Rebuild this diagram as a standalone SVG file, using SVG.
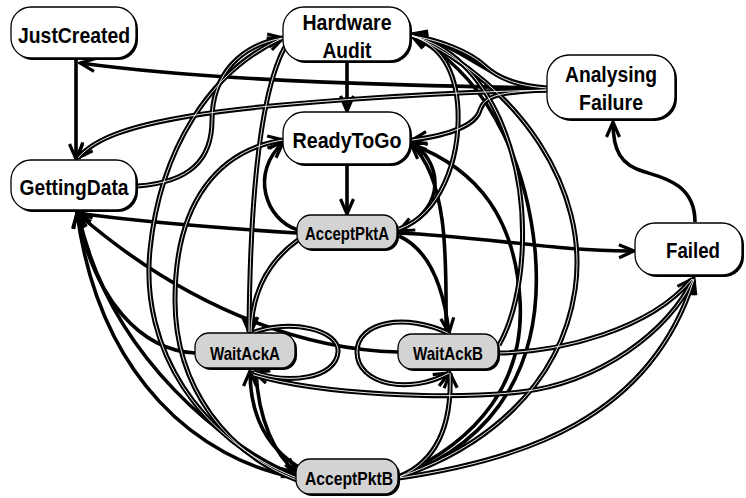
<svg xmlns="http://www.w3.org/2000/svg" xmlns:xlink="http://www.w3.org/1999/xlink" width="746" height="498" viewBox="0 0 746 498">
  <style>
    .sh { fill: #000; }
    .bx { fill: #fff; stroke: #000; stroke-width: 1.3; }
    .gr { fill: #d3d3d3; stroke: #000; stroke-width: 1.3; }
    .t { font-family: "Liberation Sans", Arial, sans-serif; font-weight: bold; font-size: 22px; text-anchor: middle; fill: #000; }
    .ts { font-size: 18.5px; }
    .s { fill: none; stroke: #000; stroke-width: 3.6; marker-end: url(#ah); }
    .d { fill: none; stroke: #000; stroke-width: 5; marker-end: url(#ah); }
    .w { fill: none; stroke: #fff; stroke-width: 0.9; }
  </style>
  <defs>
    <marker id="ah" viewBox="-18 -10 20 20" refX="0" refY="0" markerWidth="20" markerHeight="20" orient="auto" markerUnits="userSpaceOnUse">
      <path d="M-15,-6.5 L0,0 L-15,6.5" fill="none" stroke="#000" stroke-width="3.2"/>
    </marker>
    <!-- double-stroke connector paths, drawn twice (black body + white core) -->
    <path id="d1" d="M547,90 C420,93 260,104 190,116 C130,126 95,138 78,158"/>
    <path id="d2" d="M547,90 C500,92 485,95 480,110 C476,125 450,135 412,140"/>
    <path id="d3" d="M547,88 C520,86 500,80 485,66 C470,52 440,40 412,36"/>
    <path id="d4" d="M138,186 C190,182 212,160 212,120 C212,75 240,45 283,38"/>
    <path id="d5" d="M297,478 C200,440 140,350 150,250 C160,150 210,70 283,38"/>
    <path id="d6" d="M297,480 C230,455 175,390 175,300 C175,200 220,150 283,140"/>
    <path id="d7" d="M286,45 C260,90 250,200 249,332"/>
    <path id="d8" d="M298,240 C270,260 252,290 251,332"/>
    <path id="d9" d="M252,333 C290,318 340,330 338,352 C336,378 290,385 254,372"/>
    <path id="d10" d="M450,334 C405,312 357,322 357,352 C357,385 410,395 449,373"/>
    <path id="d11" d="M399,477 C440,460 452,420 450,373"/>
    <path id="d12" d="M499,353 C560,352 650,330 692,279"/>
    <path id="d13" d="M254,375 C320,395 450,400 520,392 C600,383 670,330 693,279"/>
    <path id="d14" d="M399,478 C520,460 650,420 694,279"/>
    <path id="d15" d="M399,229 C440,215 460,160 458,110 C456,70 440,45 412,36"/>
    <path id="d16" d="M499,345 C525,300 535,200 500,120 C480,75 450,45 412,36"/>
    <path id="d17" d="M399,477 C480,450 560,390 575,290 C590,190 520,85 412,35"/>
  </defs>

  <g id="connectors">
    <!-- single thick connectors -->
    <path class="s" d="M76,58 L76,159"/>
    <path class="s" d="M547,88 C420,86 220,82 80,63"/>
    <path class="s" d="M347,62 L347,111"/>
    <path class="s" d="M347,165 L347,214"/>
    <path class="s" d="M547,88 C495,88 470,48 412,34"/>
    <path class="s" d="M695,222 C695,185 665,178 645,172 C620,165 613,150 613,122"/>
    <path class="s" d="M398,233 C480,236 560,252 634,251"/>
    <path class="s" d="M297,233 C220,228 140,222 77,213"/>
    <path class="s" d="M195,353 C140,350 95,300 77,213"/>
    <path class="s" d="M398,352 C320,350 200,320 77,213"/>
    <path class="s" d="M297,478 C200,460 100,380 77,213"/>
    <path class="s" d="M78,213 C110,360 230,450 297,476"/>
    <path class="s" d="M298,230 C265,220 250,172 283,143"/>
    <path class="s" d="M411,142 C440,160 450,205 399,231"/>
    <path class="s" d="M446,334 C446,270 450,180 411,144"/>
    <path class="s" d="M399,236 C430,250 444,290 449,333"/>
    <path class="s" d="M300,468 C262,445 250,410 250,371"/>
    <path class="s" d="M256,371 C258,420 275,455 297,473"/>
    <path class="s" d="M399,478 C500,440 545,360 535,250 C525,150 480,70 412,36"/>
    <path class="s" d="M399,476 C480,440 525,380 520,300 C515,220 480,170 411,144"/>
    <!-- double connectors: black body -->
    <use xlink:href="#d1" class="d"/>
    <use xlink:href="#d2" class="d"/>
    <use xlink:href="#d3" class="d"/>
    <use xlink:href="#d4" class="d"/>
    <use xlink:href="#d5" class="d"/>
    <use xlink:href="#d6" class="d"/>
    <use xlink:href="#d7" class="d"/>
    <use xlink:href="#d8" class="d"/>
    <use xlink:href="#d9" class="d"/>
    <use xlink:href="#d10" class="d"/>
    <use xlink:href="#d11" class="d"/>
    <use xlink:href="#d12" class="d"/>
    <use xlink:href="#d13" class="d"/>
    <use xlink:href="#d14" class="d"/>
    <use xlink:href="#d15" class="d"/>
    <use xlink:href="#d16" class="d"/>
    <use xlink:href="#d17" class="d"/>
    <!-- double connectors: white core -->
    <use xlink:href="#d1" class="w"/>
    <use xlink:href="#d2" class="w"/>
    <use xlink:href="#d3" class="w"/>
    <use xlink:href="#d4" class="w"/>
    <use xlink:href="#d5" class="w"/>
    <use xlink:href="#d6" class="w"/>
    <use xlink:href="#d7" class="w"/>
    <use xlink:href="#d8" class="w"/>
    <use xlink:href="#d9" class="w"/>
    <use xlink:href="#d10" class="w"/>
    <use xlink:href="#d11" class="w"/>
    <use xlink:href="#d12" class="w"/>
    <use xlink:href="#d13" class="w"/>
    <use xlink:href="#d14" class="w"/>
    <use xlink:href="#d15" class="w"/>
    <use xlink:href="#d16" class="w"/>
    <use xlink:href="#d17" class="w"/>
  </g>

  <g id="JustCreated">
    <rect class="sh" x="13" y="9" width="125" height="51" rx="20"/>
    <rect class="bx" x="11" y="7" width="125" height="51" rx="20"/>
    <text class="t" x="74" y="43" textLength="112" lengthAdjust="spacingAndGlyphs">JustCreated</text>
  </g>
  <g id="HardwareAudit">
    <rect class="sh" x="285" y="9" width="127" height="54" rx="21"/>
    <rect class="bx" x="283" y="7" width="127" height="54" rx="21"/>
    <text class="t" x="347" y="30" textLength="89" lengthAdjust="spacingAndGlyphs">Hardware</text>
    <text class="t" x="347" y="58" textLength="49" lengthAdjust="spacingAndGlyphs">Audit</text>
  </g>
  <g id="ReadyToGo">
    <rect class="sh" x="285" y="114" width="127" height="52" rx="21"/>
    <rect class="bx" x="283" y="112" width="127" height="52" rx="21"/>
    <text class="t" x="347" y="148" textLength="109" lengthAdjust="spacingAndGlyphs">ReadyToGo</text>
  </g>
  <g id="AnalysingFailure">
    <rect class="sh" x="549" y="57" width="128" height="64" rx="22"/>
    <rect class="bx" x="547" y="55" width="128" height="64" rx="22"/>
    <text class="t" x="611" y="82" textLength="92" lengthAdjust="spacingAndGlyphs">Analysing</text>
    <text class="t" x="611" y="110" textLength="64" lengthAdjust="spacingAndGlyphs">Failure</text>
  </g>
  <g id="Failed">
    <rect class="sh" x="637" y="225" width="107" height="52" rx="20"/>
    <rect class="bx" x="635" y="223" width="107" height="52" rx="20"/>
    <text class="t" x="693" y="258" textLength="54" lengthAdjust="spacingAndGlyphs">Failed</text>
  </g>
  <g id="GettingData">
    <rect class="sh" x="13" y="162" width="125" height="50" rx="20"/>
    <rect class="bx" x="11" y="160" width="125" height="50" rx="20"/>
    <text class="t" x="74" y="195" textLength="109" lengthAdjust="spacingAndGlyphs">GettingData</text>
  </g>
  <g id="AcceptPktA">
    <rect class="sh" x="299" y="217" width="100" height="34" rx="14"/>
    <rect class="gr" x="297" y="215" width="100" height="34" rx="14"/>
    <text class="t ts" x="347" y="240" textLength="84" lengthAdjust="spacingAndGlyphs">AcceptPktA</text>
  </g>
  <g id="WaitAckA">
    <rect class="sh" x="197" y="335" width="100" height="35" rx="14"/>
    <rect class="gr" x="195" y="333" width="100" height="35" rx="14"/>
    <text class="t ts" x="245" y="360" textLength="70" lengthAdjust="spacingAndGlyphs">WaitAckA</text>
  </g>
  <g id="WaitAckB">
    <rect class="sh" x="400" y="336" width="100" height="35" rx="14"/>
    <rect class="gr" x="398" y="334" width="100" height="35" rx="14"/>
    <text class="t ts" x="448" y="360" textLength="70" lengthAdjust="spacingAndGlyphs">WaitAckB</text>
  </g>
  <g id="AcceptPktB">
    <rect class="sh" x="298" y="461" width="102" height="35" rx="14"/>
    <rect class="gr" x="296" y="459" width="102" height="35" rx="14"/>
    <text class="t ts" x="349" y="485" textLength="88" lengthAdjust="spacingAndGlyphs">AcceptPktB</text>
  </g>
</svg>
